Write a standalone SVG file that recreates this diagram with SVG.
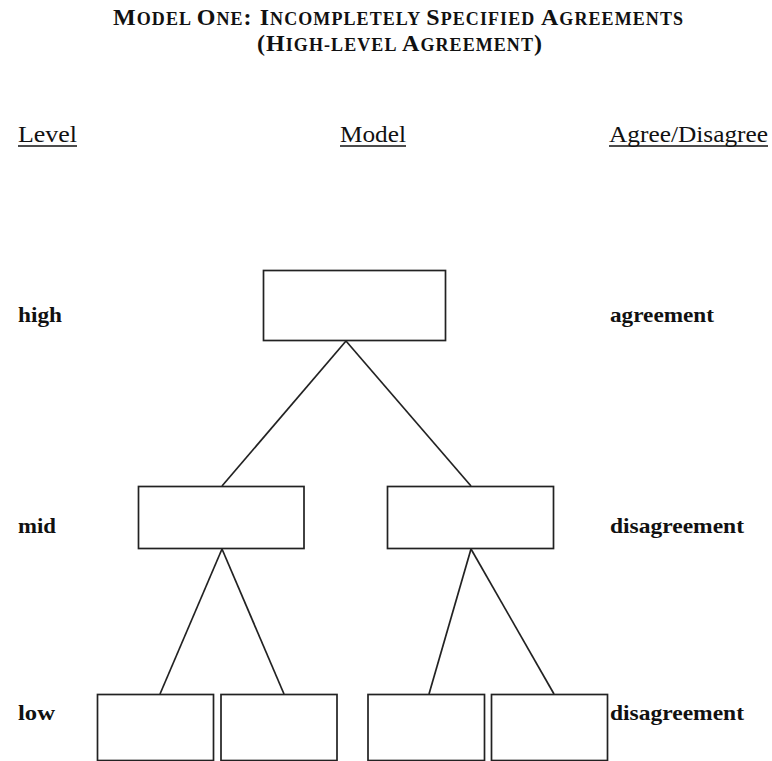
<svg xmlns="http://www.w3.org/2000/svg" width="772" height="761" viewBox="0 0 772 761">
  <style>
    .title { font-family: "Liberation Serif", "Times New Roman", serif; font-weight: bold; fill: #111; }
    .sc { font-size: 18px; }
    .cap { font-size: 24px; }
    .head { font-family: "Liberation Serif", "Times New Roman", serif; font-size: 24px; fill: #111; }
    .lbl { font-family: "Liberation Serif", "Times New Roman", serif; font-size: 22px; font-weight: bold; fill: #111; }
    .ul { stroke: #111; stroke-width: 1.4; }
    .box { fill: #fff; stroke: #222; stroke-width: 1.7; }
    .edge { stroke: #222; stroke-width: 1.7; fill: none; }
  </style>

  <rect x="0" y="0" width="772" height="761" fill="#fff"/>

  <!-- Title in small capitals -->
  <g id="title">
    <text class="title" x="398" y="25" text-anchor="middle" textLength="570" lengthAdjust="spacing"><tspan class="cap">M</tspan><tspan class="sc">ODEL </tspan><tspan class="cap">O</tspan><tspan class="sc">NE</tspan><tspan class="cap">: I</tspan><tspan class="sc">NCOMPLETELY </tspan><tspan class="cap">S</tspan><tspan class="sc">PECIFIED </tspan><tspan class="cap">A</tspan><tspan class="sc">GREEMENTS</tspan></text>
    <text class="title" x="399.5" y="51" text-anchor="middle" textLength="285" lengthAdjust="spacing"><tspan class="cap">(H</tspan><tspan class="sc">IGH-LEVEL </tspan><tspan class="cap">A</tspan><tspan class="sc">GREEMENT</tspan><tspan class="cap">)</tspan></text>
  </g>

  <!-- Column headings -->
  <g id="headings">
    <text class="head" x="18" y="142" textLength="59" lengthAdjust="spacingAndGlyphs">Level</text>
    <line class="ul" x1="18" y1="146" x2="77" y2="146"/>
    <text class="head" x="340" y="142" textLength="66" lengthAdjust="spacingAndGlyphs">Model</text>
    <line class="ul" x1="340" y1="146" x2="406" y2="146"/>
    <text class="head" x="609" y="142" textLength="159" lengthAdjust="spacingAndGlyphs">Agree/Disagree</text>
    <line class="ul" x1="609" y1="146" x2="768" y2="146"/>
  </g>

  <!-- Row labels -->
  <g id="levels">
    <text class="lbl" x="18" y="322" textLength="44" lengthAdjust="spacingAndGlyphs">high</text>
    <text class="lbl" x="18" y="533" textLength="38" lengthAdjust="spacingAndGlyphs">mid</text>
    <text class="lbl" x="18" y="720" textLength="37" lengthAdjust="spacingAndGlyphs">low</text>
  </g>
  <g id="agreement">
    <text class="lbl" x="610" y="322" textLength="104" lengthAdjust="spacingAndGlyphs">agreement</text>
    <text class="lbl" x="610" y="533" textLength="134" lengthAdjust="spacingAndGlyphs">disagreement</text>
    <text class="lbl" x="610" y="720" textLength="134" lengthAdjust="spacingAndGlyphs">disagreement</text>
  </g>

  <!-- Tree connectors -->
  <g id="connectors">
    <line class="edge" x1="346" y1="341" x2="222" y2="486"/>
    <line class="edge" x1="346" y1="341" x2="471" y2="486"/>
    <line class="edge" x1="222" y1="549" x2="160" y2="694"/>
    <line class="edge" x1="222" y1="549" x2="284" y2="694"/>
    <line class="edge" x1="471" y1="549" x2="429" y2="694"/>
    <line class="edge" x1="471" y1="549" x2="554" y2="694"/>
  </g>

  <!-- Tree nodes -->
  <g id="node-high"><rect class="box" x="263.5" y="270.5" width="182" height="70"/></g>
  <g id="node-mid-left"><rect class="box" x="138.5" y="486.5" width="165.5" height="62"/></g>
  <g id="node-mid-right"><rect class="box" x="387.5" y="486.5" width="166" height="62"/></g>
  <g id="node-low-1"><rect class="box" x="97.5" y="694.5" width="116" height="66"/></g>
  <g id="node-low-2"><rect class="box" x="221" y="694.5" width="116" height="66"/></g>
  <g id="node-low-3"><rect class="box" x="368" y="694.5" width="116.5" height="66"/></g>
  <g id="node-low-4"><rect class="box" x="491.5" y="694.5" width="116" height="66"/></g>
</svg>
